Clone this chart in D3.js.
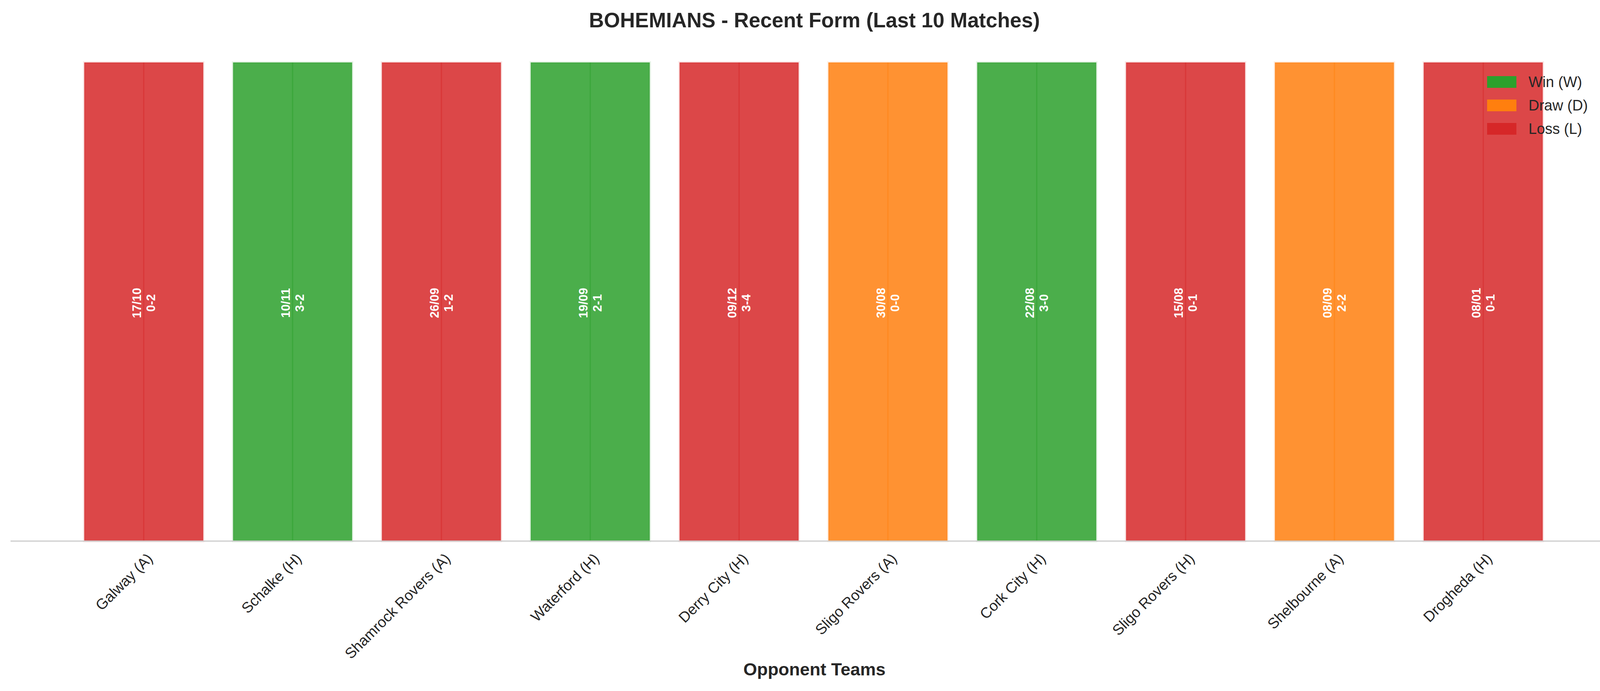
<!DOCTYPE html>
<html>
<head>
<meta charset="utf-8">
<script src="https://cdn.jsdelivr.net/npm/d3@7"></script>
<style>
  html, body { margin: 0; background: #fff; overflow: hidden; }
  svg { display: block; }
  text { font-family: "Liberation Sans", Arial, sans-serif; }
</style>
</head>
<body>
<div id="content"></div>
<script>
// match data
const opponents = ["Galway (A)", "Schalke (H)", "Shamrock Rovers (A)", "Waterford (H)", "Derry City (H)",
                   "Sligo Rovers (A)", "Cork City (H)", "Sligo Rovers (H)", "Shelbourne (A)", "Drogheda (H)"];
const results = ["L", "W", "L", "W", "L", "D", "W", "L", "D", "L"];
const dates = ["17/10", "10/11", "26/09", "19/09", "09/12", "30/08", "22/08", "15/08", "08/09", "08/01"];
const scores = ["0-2", "3-2", "1-2", "2-1", "3-4", "0-0", "3-0", "0-1", "2-2", "0-1"];
const heights = [1, 1, 1, 1, 1, 1, 1, 1, 1, 1];
const legendKeys = ["W", "D", "L"];
const legendLabels = ["Win (W)", "Draw (D)", "Loss (L)"];

const colors = { W: "#2ca02c", D: "#ff7f0e", L: "#d62728" };

const W = 4170, H = 1770;
const svg = d3.select("#content").append("svg").attr("width", W).attr("height", H);

const x = d3.scaleLinear().domain([-0.895, 9.9]).range([27, 4140]);
const y = d3.scaleLinear().domain([0, 1]).range([1386, 160]);
const bw = x(0.4) - x(-0.4);

const data = opponents.map((o, i) => ({ o, i, r: results[i], d: dates[i], s: scores[i], h: heights[i] }));

const bars = svg.selectAll(".bar").data(data).enter().append("g").attr("class", "bar");

bars.append("rect")
  .attr("x", d => x(d.i) - bw / 2)
  .attr("y", d => y(d.h))
  .attr("width", bw)
  .attr("height", d => y(0) - y(d.h))
  .attr("fill", d => colors[d.r])
  .attr("fill-opacity", 0.85)
  .attr("stroke", d => colors[d.r])
  .attr("stroke-opacity", 0.12)
  .attr("stroke-width", 6);

// thin centre line
bars.append("line")
  .attr("x1", d => x(d.i)).attr("x2", d => x(d.i))
  .attr("y1", d => y(d.h)).attr("y2", y(0))
  .attr("stroke", d => colors[d.r])
  .attr("stroke-opacity", 0.5)
  .attr("stroke-width", 3);

const midY = 776;
bars.append("text")
  .attr("transform", d => `translate(${x(d.i) - 18},${midY}) rotate(-90)`)
  .attr("text-anchor", "middle").attr("dominant-baseline", "central")
  .attr("fill", "#fff").attr("font-weight", "bold").attr("font-size", 31)
  .text(d => d.d);
bars.append("text")
  .attr("transform", d => `translate(${x(d.i) + 18},${midY}) rotate(-90)`)
  .attr("text-anchor", "middle").attr("dominant-baseline", "central")
  .attr("fill", "#fff").attr("font-weight", "bold").attr("font-size", 31)
  .text(d => d.s);

// x axis
svg.append("line")
  .attr("x1", 27).attr("x2", 4140).attr("y1", y(0)).attr("y2", y(0))
  .attr("stroke", "#cccccc").attr("stroke-width", 3);

svg.selectAll(".tick-label").data(data).enter().append("text")
  .attr("class", "tick-label")
  .attr("transform", d => `translate(${x(d.i) + 6},${y(0) + 28}) rotate(-45)`)
  .attr("text-anchor", "end").attr("dominant-baseline", "hanging")
  .attr("fill", "#262626").attr("font-size", 38)
  .text(d => d.o);

svg.append("text")
  .attr("x", 2085).attr("y", 1730)
  .attr("text-anchor", "middle").attr("font-weight", "bold")
  .attr("font-size", 45).attr("fill", "#262626")
  .text("Opponent Teams");

svg.append("text")
  .attr("x", 2085).attr("y", 70)
  .attr("text-anchor", "middle").attr("font-weight", "bold")
  .attr("font-size", 53).attr("fill", "#262626")
  .text("BOHEMIANS - Recent Form (Last 10 Matches)");

// legend
const lg = svg.selectAll(".legend").data(legendKeys).enter().append("g")
  .attr("class", "legend")
  .attr("transform", (d, i) => `translate(3807,${195 + i * 60})`);
lg.append("rect").attr("width", 75).attr("height", 30).attr("fill", d => colors[d]);
lg.append("text")
  .attr("x", 106).attr("y", 15).attr("dominant-baseline", "central")
  .attr("font-size", 38).attr("fill", "#262626")
  .text((d, i) => legendLabels[i]);
</script>
</body>
</html>
